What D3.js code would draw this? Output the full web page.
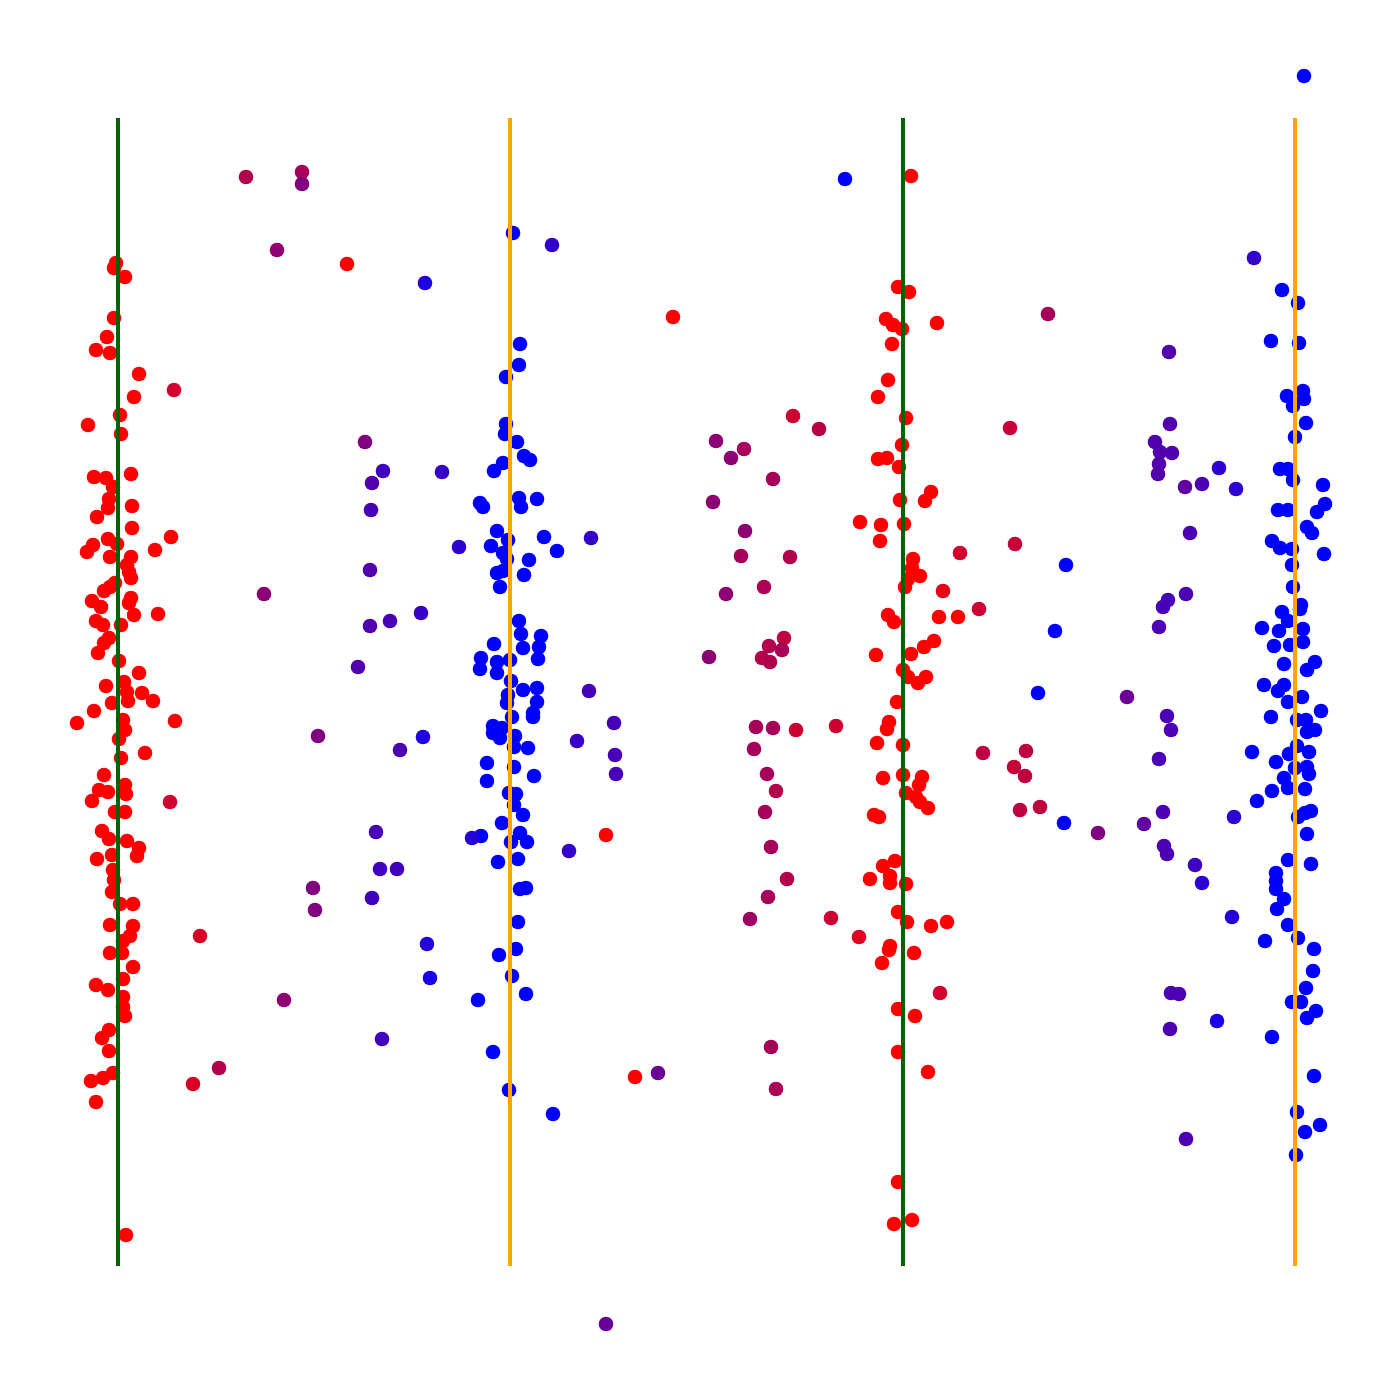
<!DOCTYPE html>
<html>
<head>
<meta charset="utf-8">
<script src="https://cdn.jsdelivr.net/npm/d3@7"></script>
<style>
html,body{margin:0;padding:0;background:#fff;}
svg{display:block;}
</style>
</head>
<body>
<script>
// Group positions (x value of each vertical guide line) and their colours
const groupX = [0, 392, 785, 1177];
const lineColors = ["#006400", "#ffa500", "#006400", "#ffa500"];
const lineSpan = [0, 1148];

// Cluster points [x, y] — groups 1 and 3 are red, groups 2 and 4 blue
const cluster1 = [[-2,1003],[-4,998],[7,989],[-4,948],[-11,929],[-22,916],[-8,913],[21,892],[16,869],[2,851],[-30,841],[3,832],[-24,789],[-12,788],[13,792],[-5,779],[-9,767],[-10,758],[14,760],[-21,749],[14,738],[53,729],[-10,727],[-25,721],[-31,714],[-1,722],[37,716],[-8,709],[13,709],[9,701],[11,694],[13,688],[-3,683],[-14,675],[-8,679],[-26,665],[-17,659],[13,668],[11,663],[16,651],[40,652],[-22,645],[-15,641],[3,641],[-9,628],[-14,623],[-20,613],[1,605],[21,593],[6,584],[-12,580],[9,574],[24,573],[10,565],[-6,563],[35,565],[-24,555],[-41,543],[5,546],[57,545],[7,536],[1,527],[27,513],[3,508],[-14,491],[7,481],[-19,476],[-10,474],[8,472],[-26,465],[-3,454],[7,454],[-16,435],[-9,427],[9,425],[21,418],[19,410],[-21,407],[-6,411],[-5,396],[-4,386],[-6,374],[2,362],[15,362],[-8,341],[15,340],[12,330],[5,325],[-8,313],[4,313],[15,299],[5,287],[-22,281],[-10,276],[5,269],[5,259],[7,250],[-9,236],[-16,228],[-9,215],[-5,193],[-15,188],[-27,185],[-22,164],[8,31]];
const cluster2 = [[395,1033],[402,922],[401,901],[388,889],[388,842],[387,832],[399,824],[406,810],[412,806],[385,803],[376,795],[362,763],[365,759],[401,768],[403,759],[419,767],[379,735],[373,720],[390,726],[426,729],[439,715],[385,713],[389,707],[411,706],[379,693],[385,695],[406,691],[382,679],[401,645],[403,632],[423,630],[405,618],[421,619],[420,607],[376,622],[363,608],[379,604],[392,606],[362,597],[379,593],[393,585],[405,576],[419,578],[390,571],[389,563],[419,564],[415,553],[415,549],[394,549],[375,540],[384,538],[375,533],[382,528],[397,530],[396,519],[410,518],[369,503],[396,499],[416,490],[369,485],[391,473],[398,472],[396,461],[405,451],[384,443],[402,433],[409,424],[393,424],[363,430],[380,404],[400,407],[402,377],[408,378],[400,344],[398,317],[381,311],[394,290],[408,272],[360,266],[375,214],[391,176],[435,152]];
const cluster3 = [[793,1090],[780,979],[791,974],[768,947],[775,941],[784,937],[819,943],[774,922],[770,886],[760,869],[788,848],[784,821],[760,807],[769,808],[781,799],[813,774],[807,765],[782,766],[742,744],[763,741],[786,742],[762,725],[795,707],[794,698],[802,690],[790,687],[787,679],[770,651],[776,644],[821,649],[840,649],[816,625],[806,619],[758,611],[793,612],[785,596],[790,589],[808,589],[800,583],[779,564],[771,544],[769,537],[759,523],[785,521],[765,488],[785,491],[804,489],[801,481],[788,473],[798,469],[802,464],[810,458],[756,451],[761,449],[777,405],[765,400],[752,387],[772,390],[772,383],[788,382],[780,354],[789,344],[813,340],[829,344],[772,320],[771,316],[796,313],[764,303],[780,257],[797,250],[780,214],[810,194],[780,84],[776,42],[794,46]];
const cluster4 = [[1164,976],[1180,963],[1153,925],[1181,923],[1169,870],[1185,875],[1186,867],[1175,860],[1188,843],[1177,829],[1162,797],[1170,797],[1175,786],[1205,781],[1160,756],[1170,756],[1207,762],[1199,754],[1189,739],[1194,733],[1154,725],[1162,718],[1174,717],[1206,712],[1174,701],[1175,679],[1183,661],[1182,657],[1164,654],[1170,645],[1144,638],[1161,635],[1185,637],[1156,620],[1172,621],[1185,624],[1166,602],[1197,604],[1189,596],[1146,581],[1166,581],[1160,575],[1170,564],[1184,569],[1203,555],[1153,549],[1179,546],[1188,546],[1189,534],[1197,536],[1134,514],[1171,512],[1179,520],[1191,514],[1158,504],[1177,498],[1189,499],[1191,492],[1166,488],[1170,478],[1154,475],[1187,477],[1139,465],[1180,449],[1187,453],[1193,455],[1189,432],[1170,406],[1193,402],[1158,393],[1158,385],[1158,377],[1166,367],[1159,357],[1170,341],[1180,328],[1147,325],[1196,317],[1195,295],[1188,278],[1174,264],[1183,264],[1198,255],[1189,248],[1154,229],[1196,190],[1179,154],[1202,141],[1187,134],[1178,111],[1186,1190]];

// Points in transit [x, y, mix] — mix 0 = red, 1 = blue
const transit12 = [[56,876,0.18],[52,464,0.18],[82,330,0.15],[75,182,0.15],[128,1089,0.3],[184,1094,0.35],[184,1082,0.5],[159,1016,0.43],[229,1002,0],[307,983,0.88],[247,824,0.5],[265,795,0.75],[254,783,0.68],[324,794,0.78],[253,756,0.72],[341,719,0.82],[252,696,0.68],[146,672,0.45],[252,640,0.68],[272,645,0.72],[303,653,0.78],[240,599,0.68],[200,530,0.5],[305,529,0.88],[282,516,0.7],[258,434,0.72],[262,397,0.75],[279,397,0.75],[195,378,0.5],[197,356,0.5],[254,368,0.75],[309,322,0.85],[312,288,0.9],[166,266,0.45],[264,227,0.75],[101,198,0.3],[354,428,0.85],[434,1021,0.8]];
const transit23 = [[473,728,0.8],[471,575,0.72],[496,543,0.72],[459,525,0.78],[497,511,0.72],[498,492,0.72],[451,415,0.8],[488,431,0],[555,949,0],[517,189,0],[540,193,0.58],[488,-58,0.6],[675,850,0.2],[701,837,0.28],[598,825,0.45],[626,817,0.35],[613,808,0.45],[655,787,0.35],[595,764,0.45],[627,735,0.45],[623,710,0.35],[672,709,0.3],[646,679,0.33],[608,672,0.45],[666,628,0.25],[651,620,0.3],[664,616,0.35],[644,608,0.3],[652,604,0.3],[591,609,0.45],[638,539,0.35],[655,538,0.35],[678,536,0.2],[718,540,0.2],[636,517,0.35],[649,492,0.35],[658,475,0.3],[647,454,0.35],[653,419,0.35],[669,387,0.3],[650,369,0.35],[632,347,0.38],[713,348,0.2],[741,329,0.12],[653,219,0.35],[658,177,0.33],[727,1087,1]];
const transit34 = [[842,713,0.18],[825,675,0.1],[861,657,0.2],[865,513,0.25],[822,273,0.18],[930,952,0.35],[1051,914,0.68],[892,838,0.22],[1052,842,0.68],[1037,824,0.68],[1042,814,0.68],[1054,813,0.68],[1041,802,0.68],[1040,792,0.68],[1101,798,0.82],[1118,777,0.82],[1067,779,0.62],[1084,782,0.7],[1072,733,0.7],[897,722,0.22],[948,701,1],[1068,672,0.7],[1050,666,0.72],[1045,659,0.72],[1041,639,0.7],[937,635,1],[920,573,1],[1009,569,0.58],[1049,550,0.7],[1053,536,0.7],[908,515,0.25],[896,499,0.22],[907,490,0.25],[1041,507,0.7],[1045,454,0.7],[1026,442,0.62],[902,456,0.25],[922,459,0.25],[946,443,1],[980,433,0.5],[1116,449,0.82],[1046,420,0.7],[1049,412,0.7],[1077,401,0.75],[1084,383,0.82],[1114,349,0.85],[1053,273,0.7],[1061,272,0.7],[1099,245,0.9],[1052,237,0.7],[1068,127,0.7],[1136,1008,0.8]];

const W = 1400, H = 1400;
const x = d3.scaleLinear().domain([0, 1177]).range([118, 1295]);
const y = d3.scaleLinear().domain([0, 1148]).range([1266, 118]);
const color = d3.interpolateRgb("#ff0000", "#0000ff");
const R = 7.3;

const svg = d3.select("body").append("svg").attr("width", W).attr("height", H);

const pts = [];
cluster1.forEach(d => pts.push({x: d[0], y: d[1], t: 0}));
cluster2.forEach(d => pts.push({x: d[0], y: d[1], t: 1}));
cluster3.forEach(d => pts.push({x: d[0], y: d[1], t: 0}));
cluster4.forEach(d => pts.push({x: d[0], y: d[1], t: 1}));
[transit12, transit23, transit34].forEach(arr => arr.forEach(d => pts.push({x: d[0], y: d[1], t: d[2]})));

svg.append("g").selectAll("circle").data(pts).join("circle")
  .attr("cx", d => x(d.x))
  .attr("cy", d => y(d.y))
  .attr("r", R)
  .attr("fill", d => color(d.t));

svg.append("g").selectAll("line").data(groupX).join("line")
  .attr("x1", d => x(d)).attr("x2", d => x(d))
  .attr("y1", y(lineSpan[0])).attr("y2", y(lineSpan[1]))
  .attr("stroke", (d, i) => lineColors[i])
  .attr("stroke-width", 4);
</script>
</body>
</html>
